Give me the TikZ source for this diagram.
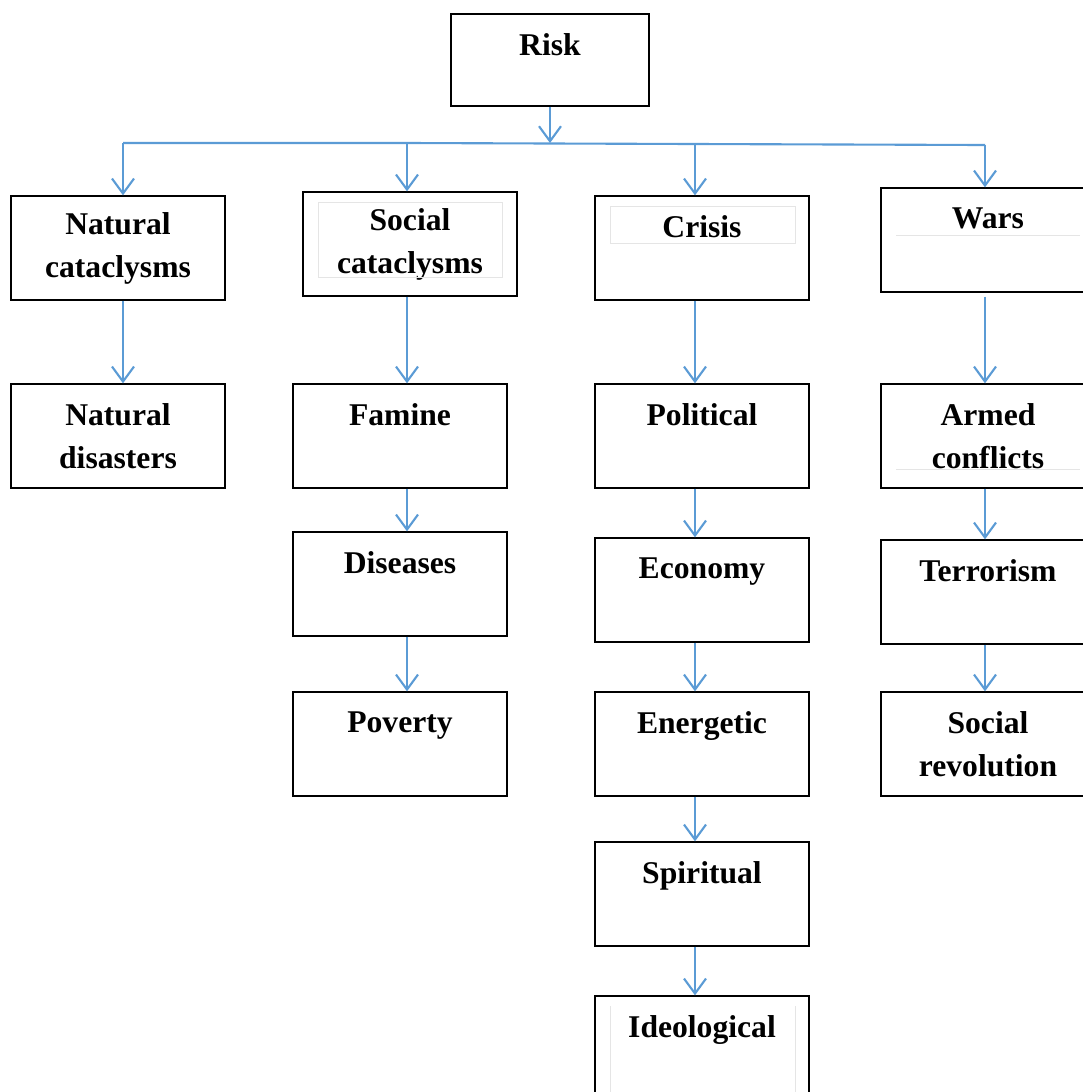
\documentclass[tikz,border=0pt]{standalone}
\usepackage{fontspec}
\setmainfont{Liberation Serif}
\usetikzlibrary{arrows.meta}
\definecolor{linkblue}{RGB}{91,155,213}
\begin{document}
\begin{tikzpicture}[x=0.2mm,y=-0.2mm,
  box/.style={draw,line width=0.75pt,inner sep=0pt,minimum width=42.8mm,minimum height=20.8mm,
    align=center,font=\fontsize{18}{24.4}\selectfont\bfseries},
  link/.style={linkblue,line width=1.2pt,-{Straight Barb[length=3mm,width=4.4mm]}},
  faint/.style={draw=black!10,line width=0.4pt}]
\useasboundingbox (0,0) rectangle (1083,1092);
\node[box,minimum width=39.6mm,minimum height=18.4mm] (risk) at (550,60) {Risk\\[-2.4mm]~};
\coordinate (hub) at (550,143);
\coordinate (b1) at (123,143);
\coordinate (b2) at (407,143);
\coordinate (b3) at (695,144);
\coordinate (b4) at (985,145);
\node[box] (natcat) at (118,248) {Natural\\cataclysms};
\node[box] (soccat) at (410,244) {Social\\cataclysms};
\node[box] (crisis) at (702,248) {Crisis\\~};
\node[box] (wars) at (988,240) {Wars\\~};
\node[box] (natdis) at (118,436) {Natural\\disasters};
\node[box] (famine) at (400,436) {Famine\\~};
\node[box] (political) at (702,436) {Political\\~};
\node[box] (armed) at (988,436) {Armed\\conflicts};
\node[box] (diseases) at (400,584) {Diseases\\~};
\node[box] (economy) at (702,590) {Economy\\~};
\node[box] (terror) at (988,592) {Terrorism\\~};
\node[box] (poverty) at (400,744) {Poverty\\~};
\node[box] (energetic) at (702,744) {Energetic\\~};
\node[box] (socrev) at (988,744) {Social\\revolution};
\node[box] (spiritual) at (702,894) {Spiritual\\~};
\node[box] (ideological) at (702,1048) {Ideological\\~};
% faint text frames
\draw[faint] (318,202) rectangle (502,277);
\draw[faint] (610,206) rectangle (795,243);
\draw[faint] (896,235) -- (1080,235);
\draw[faint] (896,469) -- (1080,469);
\draw[faint] (610,1006) -- (610,1092) (795,1006) -- (795,1092);
% connectors
\draw[link] (risk) -- (hub);
\draw[linkblue,line width=1.2pt] (b1) -- (b2) -- (b3) -- (b4);
\foreach \b/\n in {b1/natcat,b2/soccat,b3/crisis,b4/wars}
  \draw[link] (\b) -- (\n.north -| \b);
\draw[link] (natcat.south -| b1) -- (natdis.north -| b1);
\draw[link] (soccat.south -| b2) -- (famine.north -| b2);
\draw[link] (famine.south -| b2) -- (diseases.north -| b2);
\draw[link] (diseases.south -| b2) -- (poverty.north -| b2);
\draw[link] (crisis.south -| b3) -- (political.north -| b3);
\draw[link] (political.south -| b3) -- (economy.north -| b3);
\draw[link] (economy.south -| b3) -- (energetic.north -| b3);
\draw[link] (energetic.south -| b3) -- (spiritual.north -| b3);
\draw[link] (spiritual.south -| b3) -- (ideological.north -| b3);
\draw[link,shorten <=0.8mm] (wars.south -| b4) -- (armed.north -| b4);
\draw[link] (armed.south -| b4) -- (terror.north -| b4);
\draw[link] (terror.south -| b4) -- (socrev.north -| b4);
\end{tikzpicture}
\end{document}
